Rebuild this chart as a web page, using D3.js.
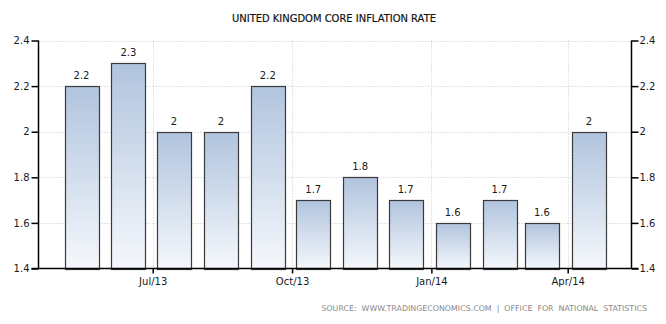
<!DOCTYPE html>
<html>
<head>
<meta charset="utf-8">
<script src="https://cdn.jsdelivr.net/npm/d3@7"></script>
<style>
  html, body { margin: 0; padding: 0; background: #fff; }
  svg { display: block; }
  text { font-family: "DejaVu Sans", Verdana, sans-serif; }
  .source { white-space: pre; }
</style>
</head>
<body>
<svg id="chart" width="666" height="324"></svg>
<script>
// Monthly core inflation readings (%), May 2013 – Apr 2014
const months = ["2013-05", "2013-06", "2013-07", "2013-08", "2013-09", "2013-10",
                "2013-11", "2013-12", "2014-01", "2014-02", "2014-03", "2014-04"];
const values = [2.2, 2.3, 2.0, 2.0, 2.2, 1.7, 1.8, 1.7, 1.6, 1.7, 1.6, 2.0];
const yTicks = [1.4, 1.6, 1.8, 2.0, 2.2, 2.4];
const xTickMonths = ["2013-07", "2013-10", "2014-01", "2014-04"];
const titleText = "UNITED KINGDOM CORE INFLATION RATE";
const sourceText = "SOURCE:  WWW.TRADINGECONOMICS.COM  |  OFFICE  FOR  NATIONAL  STATISTICS";

const parseMonth = d3.timeParse("%Y-%m");
const fmtTick = d3.timeFormat("%b/%y");

const plotLeft = 38.5, plotRight = 631.5, plotTop = 40.5, plotBottom = 268.5;

const svg = d3.select("#chart");

// time axis: calibrated so month ticks fall on their grid lines
const x = d3.scaleTime()
  .domain([new Date(2013, 6, 1), new Date(2014, 3, 1)])
  .range([152.7, 567.7]);

const y = d3.scaleLinear().domain([1.4, 2.4]).range([plotBottom, plotTop]);

const barWidth = 34;
const barCenter = d => x(d3.timeDay.offset(d, 14));

// gradient fill for bars
const defs = svg.append("defs");
const grad = defs.append("linearGradient")
  .attr("id", "barGrad").attr("x1", 0).attr("y1", 0).attr("x2", 0).attr("y2", 1);
grad.append("stop").attr("offset", "0%").attr("stop-color", "#b1c4de");
grad.append("stop").attr("offset", "100%").attr("stop-color", "#f5f8fc");

// title
svg.append("text")
  .attr("x", 334).attr("y", 22)
  .attr("text-anchor", "middle")
  .attr("font-size", 11)
  .attr("fill", "#111")
  .attr("stroke", "#111").attr("stroke-width", 0.2)
  .attr("textLength", 204).attr("lengthAdjust", "spacingAndGlyphs")
  .text(titleText);

// horizontal dotted grid
svg.append("g").selectAll("line")
  .data(yTicks.filter(t => t > 1.4))
  .join("line")
  .attr("x1", plotLeft).attr("x2", plotRight)
  .attr("y1", d => Math.round(y(d)) + 0.5).attr("y2", d => Math.round(y(d)) + 0.5)
  .attr("stroke", "#c8c8c8").attr("stroke-width", 1)
  .attr("stroke-dasharray", "1,2");

// vertical dotted grid at month ticks
const xTicks = xTickMonths.map(parseMonth);
svg.append("g").selectAll("line")
  .data(xTicks)
  .join("line")
  .attr("x1", d => Math.round(x(d)) + 0.5).attr("x2", d => Math.round(x(d)) + 0.5)
  .attr("y1", plotTop).attr("y2", plotBottom)
  .attr("stroke", "#c8c8c8").attr("stroke-width", 1)
  .attr("stroke-dasharray", "1,2");

// bars
const data = months.map((m, i) => ({ date: parseMonth(m), value: values[i] }));
svg.append("g").selectAll("rect")
  .data(data)
  .join("rect")
  .attr("x", d => Math.round(barCenter(d.date) - barWidth / 2) + 0.5)
  .attr("y", d => Math.round(y(d.value)) + 0.5)
  .attr("width", barWidth)
  .attr("height", d => Math.round(plotBottom) - Math.round(y(d.value)))
  .attr("fill", "url(#barGrad)")
  .attr("stroke", "#3a3a3a").attr("stroke-width", 1.2);

// value labels
svg.append("g").selectAll("text")
  .data(data)
  .join("text")
  .attr("x", d => barCenter(d.date))
  .attr("y", d => y(d.value) - 7)
  .attr("text-anchor", "middle")
  .attr("font-size", 10)
  .attr("fill", "#1a1a1a")
  .text(d => d3.format("~g")(d.value));

// left axis
const fmtY = d => d3.format("~g")(d);
const yLeft = d3.axisLeft(y).tickValues(yTicks).tickFormat(fmtY).tickSize(7).tickPadding(2);
const gl = svg.append("g").attr("transform", `translate(${plotLeft},0)`).call(yLeft);
// right axis
const yRight = d3.axisRight(y).tickValues(yTicks).tickFormat(fmtY).tickSize(7).tickPadding(1);
const gr = svg.append("g").attr("transform", `translate(${plotRight},0)`).call(yRight);

// bottom axis
const xAxis = d3.axisBottom(x).tickValues(xTicks).tickFormat(fmtTick).tickSize(5).tickPadding(4);
const gb = svg.append("g").attr("transform", `translate(0,${plotBottom})`).call(xAxis);
gb.select(".domain").remove();
svg.append("line")
  .attr("x1", plotLeft - 7).attr("x2", plotRight + 7)
  .attr("y1", plotBottom).attr("y2", plotBottom)
  .attr("stroke", "#000").attr("stroke-width", 1.5);

[gl, gr, gb].forEach(g => {
  g.selectAll(".domain").attr("stroke", "#000").attr("stroke-width", 1.5);
  g.selectAll(".tick line").attr("stroke", "#000").attr("stroke-width", 1.5);
  g.selectAll("text").attr("font-size", 10).attr("fill", "#1a1a1a")
    .attr("font-family", "DejaVu Sans, Verdana, sans-serif");
});
gl.select(".domain").attr("d", `M0,${plotTop}V${plotBottom}`);
gr.select(".domain").attr("d", `M0,${plotTop}V${plotBottom}`);

// source line, sized to fit its slot under the plot
const src = svg.append("text")
  .attr("class", "source")
  .attr("x", 647).attr("y", 311)
  .attr("text-anchor", "end")
  .attr("font-size", 8.5)
  .attr("fill", "#8a8a8a")
  .text(sourceText);
const srcWidth = src.node().getComputedTextLength();
if (srcWidth > 326) src.attr("font-size", 8.5 * 326 / srcWidth);
</script>
</body>
</html>
